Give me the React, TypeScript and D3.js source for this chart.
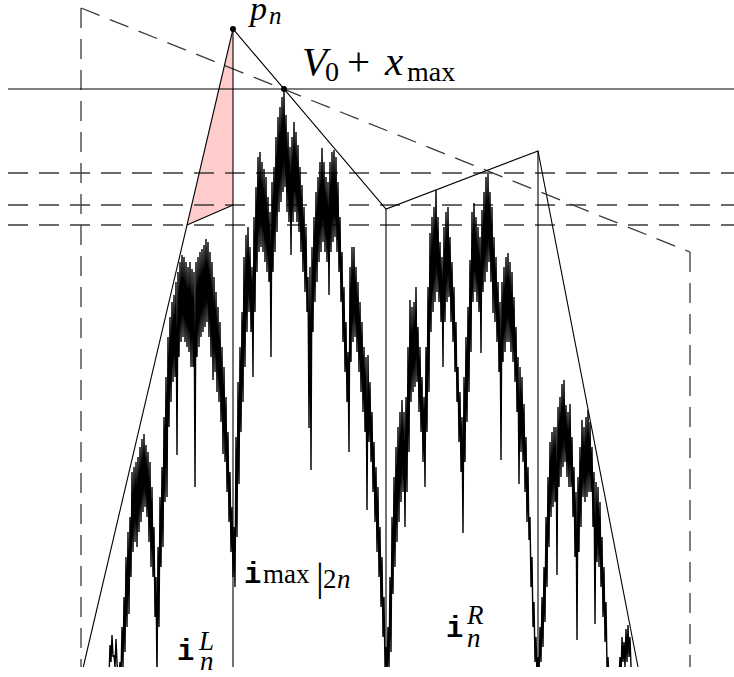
import React from "react";
import * as d3 from "d3";

const W = 734;
const H = 677;

// random walk: one sample every 2 time units,
// upper = top of the zigzag band, lower = bottom of it (spikes included)
const walkStart = 27;
const walkStep = 2;

const walkUpper = [
  -10, 22, 32, 12, 28, -10, 5, 40, 70, 110,
  135, 150, 195, 200, 205, 210, 220, 228, 233, 222,
  215, 205, 180, 140, 90, 120, 170, 200, 250, 290,
  330, 350, 365, 372, 385, 395, 405, 412, 410, 405,
  400, 405, 398, 395, 405, 410, 415, 418, 422, 428,
  425, 415, 405, 390, 375, 360, 345, 320, 300, 270,
  235, 195, 160, 140, 230, 285, 320, 355, 410, 432,
  440, 420, 400, 450, 480, 510, 515, 505, 498, 490,
  470, 455, 485, 500, 530, 550, 560, 570, 577, 552,
  535, 520, 530, 545, 535, 522, 500, 482, 460, 440,
  390, 400, 420, 450, 475, 490, 505, 519, 505, 490,
  485, 505, 515, 517, 510, 485, 450, 415, 380, 345,
  315, 400, 420, 420, 400, 385, 365, 345, 320, 310,
  312, 285, 255, 225, 200, 180, 140, 110, 70, 20,
  40, 90, 150, 190, 220, 240, 255, 267, 255, 270,
  320, 367, 360, 365, 380, 340, 320, 290, 270, 320,
  380, 434, 450, 460, 477, 450, 425, 410, 440, 455,
  460, 430, 405, 380, 345, 300, 275, 250, 290, 330,
  360, 407, 455, 464, 450, 440, 430, 457, 475, 490,
  493, 475, 460, 430, 410, 385, 365, 385, 400, 410,
  414, 405, 395, 370, 340, 310, 300, 290, 263, 230,
  200, 150, 110, 65, 30, 10, 40, 70, 100, 150,
  190, 225, 235, 240, 240, 260, 270, 283, 287, 262,
  255, 263, 230, 200, 175, 190, 220, 247, 240, 250,
  257, 245, 220, 195, 185, 180, 165, 130, 100, 65,
  10, -10, -10, -10, -10, -10, 10, 30, 25, 38,
  42, 30, -10,
];

const walkLower = [
  -10, 5, 10, 0, 5, -10, -10, 0, 15, 40,
  53, 90, 115, 125, 120, 135, 145, 155, 160, 150,
  125, 100, 90, 50, -10, 40, 100, 120, 165, 170,
  240, 265, 285, 290, 212, 310, 325, 330, 325, 320,
  315, 300, 300, 180, 310, 320, 330, 335, 340, 345,
  330, 310, 287, 295, 275, 265, 245, 213, 205, 175,
  145, 115, 90, 80, 130, 183, 235, 265, 300, 335,
  355, 335, 290, 355, 395, 415, 420, 415, 405, 395,
  385, 310, 395, 415, 435, 455, 465, 475, 480, 455,
  445, 412, 445, 455, 445, 435, 415, 395, 375, 355,
  239, 197, 335, 365, 385, 405, 415, 425, 415, 405,
  372, 415, 425, 430, 415, 395, 365, 325, 295, 265,
  215, 305, 325, 330, 315, 295, 275, 255, 235, 157,
  225, 205, 175, 145, 115, 90, 60, 30, 0, -10,
  -5, 15, 73, 100, 125, 145, 165, 175, 140, 175,
  215, 265, 275, 280, 285, 255, 235, 205, 180, 235,
  275, 335, 355, 365, 375, 365, 345, 300, 345, 365,
  370, 345, 325, 295, 265, 225, 195, 134, 205, 245,
  275, 315, 365, 375, 365, 355, 314, 375, 385, 395,
  405, 385, 354, 345, 325, 295, 207, 305, 315, 325,
  325, 315, 305, 285, 255, 183, 215, 205, 175, 145,
  127, 80, 40, 5, -10, -10, 5, 20, 45, 80,
  120, 150, 160, 165, 92, 180, 190, 200, 205, 190,
  180, 180, 150, 110, 27, 115, 140, 170, 165, 170,
  175, 175, 140, 43, 105, 100, 80, 50, 25, 0,
  -10, -10, -10, -10, -10, -10, -10, 5, 0, 5,
  10, 0, -10,
];

// construction points (time, height)
const frameT = [0, 609];
const frameTopV = [659, 415];
const maxLevel = 578; // V0 + x_max
const dashedLevels = [494, 462, 442];
const pN = [152, 638];
const xMaxPt = [203, 578];
const hullMid = [305, 458];
const hullRight = [457, 516];
const leftFoot = [2.3, 0];
const rightFoot = [557, 0];
const pinkLeft = [106, 442];
const pinkLow = [152, 462];

const x = d3.scaleLinear().domain([0, 609]).range([81, 690]);
const y = d3.scaleLinear().domain([0, 659]).range([667, 8]);

const walkPts: [number, number][] = [];
walkUpper.forEach((u, i) => {
  const t = walkStart + i * walkStep;
  walkPts.push([t, u]);
  walkPts.push([t + walkStep / 2, walkLower[i]]);
});

const line = d3
  .line<number[]>()
  .x((d) => x(d[0]))
  .y((d) => y(d[1]));

const dash = "20,11";
const dashColor = "#3a3a3a";
const mathFont = "'Liberation Serif', 'DejaVu Serif', serif";
const ttFont = "'Liberation Mono', 'DejaVu Sans Mono', monospace";

export default function App() {
  const bottom = y(0);
  return (
    <svg
      width={W}
      height={H}
      style={{ position: "absolute", left: 0, top: 0, background: "#fff" }}
    >
      <defs>
        <clipPath id="plotClip">
          <rect x={0} y={0} width={W} height={bottom} />
        </clipPath>
      </defs>

      <g clipPath="url(#plotClip)">
        {/* pink region */}
        <path
          d={line([pN, pinkLeft, pinkLow]) + "Z"}
          fill="#ffcccc"
          stroke="none"
        />

        {/* dashed frame */}
        <line x1={x(frameT[0])} x2={x(frameT[0])} y1={y(frameTopV[0])} y2={bottom}
          stroke={dashColor} strokeWidth={1.3} strokeDasharray={dash} />
        <line x1={x(frameT[0])} x2={x(frameT[1])} y1={y(frameTopV[0])} y2={y(frameTopV[1])}
          stroke={dashColor} strokeWidth={1.3} strokeDasharray={dash} />
        <line x1={x(frameT[1])} x2={x(frameT[1])} y1={y(frameTopV[1])} y2={bottom}
          stroke={dashColor} strokeWidth={1.3} strokeDasharray={dash} />
        {dashedLevels.map((v) => (
          <line key={v} x1={8} x2={W} y1={y(v)} y2={y(v)}
            stroke={dashColor} strokeWidth={1.3} strokeDasharray={dash} />
        ))}

        {/* V0 + x_max level */}
        <line x1={8} x2={W} y1={y(maxLevel)} y2={y(maxLevel)} stroke="#000" strokeWidth={1.1} />

        {/* the walk */}
        <path d={line(walkPts) || ""} fill="none" stroke="#000" strokeWidth={1.4} strokeLinejoin="bevel" />

        {/* hull lines */}
        <path d={line([leftFoot, pN, hullMid, hullRight, rightFoot]) || ""}
          fill="none" stroke="#000" strokeWidth={1.1} />
        <path d={line([pinkLeft, pinkLow]) || ""} fill="none" stroke="#000" strokeWidth={1.1} />
        {[pN, hullMid, hullRight].map((p, i) => (
          <line key={i} x1={x(p[0])} x2={x(p[0])} y1={y(p[1])} y2={bottom}
            stroke="#000" strokeWidth={1.1} />
        ))}
      </g>

      {/* marked points */}
      <circle cx={x(pN[0])} cy={y(pN[1])} r={3} fill="#000" />
      <circle cx={x(xMaxPt[0])} cy={y(xMaxPt[1])} r={3} fill="#000" />

      {/* labels */}
      <text fontFamily={mathFont} fontSize={34} fill="#000">
        <tspan x={x(pN[0]) + 17} y={20} fontStyle="italic">p</tspan>
        <tspan x={x(pN[0]) + 36} y={24} fontSize={25} fontStyle="italic">n</tspan>
      </text>

      <text fontFamily={mathFont} fontSize={41} fill="#000">
        <tspan x={x(xMaxPt[0]) + 18} y={75} fontStyle="italic">V</tspan>
        <tspan x={x(xMaxPt[0]) + 41} y={81} fontSize={28}>0</tspan>
        <tspan x={x(xMaxPt[0]) + 63} y={75}>+</tspan>
        <tspan x={x(xMaxPt[0]) + 101} y={75} fontStyle="italic">x</tspan>
        <tspan x={x(xMaxPt[0]) + 123} y={81} fontSize={28}>max</tspan>
      </text>

      <text fill="#000">
        <tspan x={x(pN[0]) + 11} y={583} fontFamily={ttFont} fontSize={29} fontWeight="bold">i</tspan>
        <tspan x={x(pN[0]) + 30} y={583} fontFamily={mathFont} fontSize={27}>max</tspan>
        <tspan x={x(pN[0]) + 83} y={590} fontFamily={mathFont} fontSize={39}>|</tspan>
        <tspan x={x(pN[0]) + 90} y={588} fontFamily={mathFont} fontSize={27}>2</tspan>
        <tspan x={x(pN[0]) + 104} y={588} fontFamily={mathFont} fontSize={27} fontStyle="italic">n</tspan>
      </text>

      <text fill="#000">
        <tspan x={x(pN[0]) - 56} y={660} fontFamily={ttFont} fontSize={29} fontWeight="bold">i</tspan>
        <tspan x={x(pN[0]) - 34} y={650} fontFamily={mathFont} fontSize={27} fontStyle="italic">L</tspan>
        <tspan x={x(pN[0]) - 33} y={670} fontFamily={mathFont} fontSize={27} fontStyle="italic">n</tspan>
      </text>

      <text fill="#000">
        <tspan x={x(hullMid[0]) + 60} y={637} fontFamily={ttFont} fontSize={29} fontWeight="bold">i</tspan>
        <tspan x={x(hullMid[0]) + 81} y={624} fontFamily={mathFont} fontSize={27} fontStyle="italic">R</tspan>
        <tspan x={x(hullMid[0]) + 81} y={647} fontFamily={mathFont} fontSize={27} fontStyle="italic">n</tspan>
      </text>
    </svg>
  );
}
